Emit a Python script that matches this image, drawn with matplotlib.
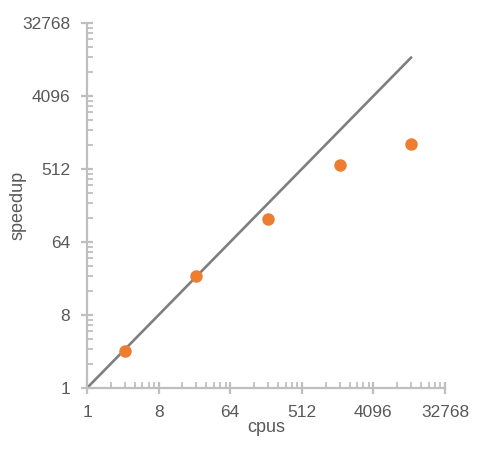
import matplotlib
matplotlib.use('Agg')
from matplotlib import pyplot as plt
from matplotlib.ticker import LogLocator, FuncFormatter, NullFormatter

plt.rcParams['font.family'] = ['Liberation Sans', 'DejaVu Sans']

cpus = [3, 24, 192, 1536, 12288]
speedup = [2.9, 24, 123, 575, 1045]
ideal_x = [1, 3, 24, 192, 1536, 12288]
ideal_y = [1, 3, 24, 192, 1536, 12288]
ticks = [1, 8, 64, 512, 4096, 32768]

gris = '#bfbfbf'
texto = '#595959'

fig = plt.figure(figsize=(4.81, 4.5), dpi=100)
ax = fig.add_axes([87/481, 62/450, 358/481, 365/450])

ax.plot(ideal_x, ideal_y, color='#7f7f7f', linewidth=1.9, solid_capstyle='round', zorder=2)
ax.plot(cpus, speedup, 'o', color='#ed7d31', markersize=9, markeredgewidth=0, zorder=3)

ax.set_xscale('log', base=2)
ax.set_yscale('log', base=2)
ax.set_xlim(1, 32768)
ax.set_ylim(1, 32768)

for eje in (ax.xaxis, ax.yaxis):
    eje.set_major_locator(LogLocator(base=8, numticks=10))
    eje.set_minor_locator(LogLocator(base=8, subs=[2, 3, 4, 5, 6, 7], numticks=20))
    eje.set_major_formatter(FuncFormatter(lambda v, p: '%d' % round(v)))
    eje.set_minor_formatter(NullFormatter())
ax.set_xticks(ticks)
ax.set_yticks(ticks)

for s in ['top', 'right']:
    ax.spines[s].set_visible(False)
for s in ['left', 'bottom']:
    ax.spines[s].set_color(gris)
    ax.spines[s].set_linewidth(1.6)

ax.tick_params(which='major', direction='inout', length=8, width=1.6, color=gris,
               labelsize=12.5, labelcolor=texto, pad=8)
ax.tick_params(which='minor', direction='in', length=4, width=1.3, color=gris)

ax.set_xlabel('cpus', fontsize=13, color=texto)
ax.set_ylabel('speedup', fontsize=13, color=texto)
ax.xaxis.set_label_coords(0.5, -0.085)
ax.yaxis.set_label_coords(-0.17, 0.5)

fig.savefig('out.png', dpi=100)
